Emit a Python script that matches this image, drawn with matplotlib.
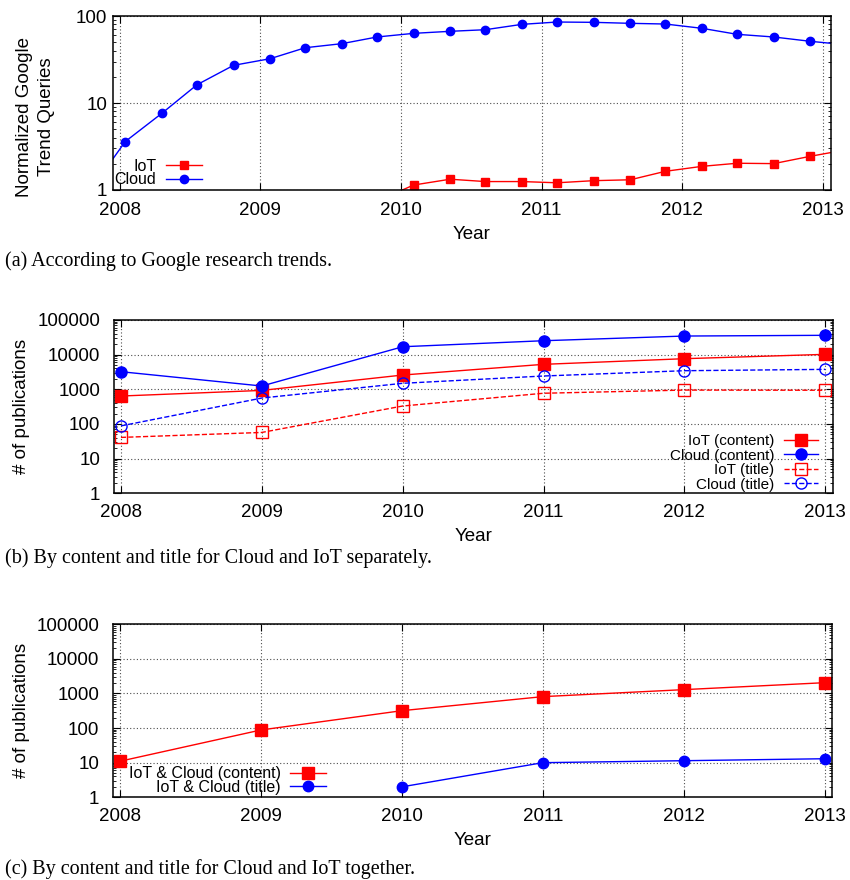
import matplotlib
matplotlib.use("Agg")
import matplotlib.pyplot as plt
from matplotlib.ticker import LogLocator, NullFormatter

plt.rcParams['font.family'] = ['Liberation Sans', 'DejaVu Sans']

# (a) Google trends, quarterly samples
trend_t = [2008.04, 2008.30, 2008.55, 2008.81, 2009.07, 2009.32, 2009.58, 2009.83,
           2010.09, 2010.35, 2010.60, 2010.86, 2011.11, 2011.37, 2011.63, 2011.88,
           2012.14, 2012.39, 2012.65, 2012.91]
trend_cloud = [3.6, 7.6, 16.2, 27.1, 32.3, 43.2, 48.1, 57.4, 63.2, 66.7,
               69.6, 80.2, 85.3, 84.6, 82.4, 80.9, 72.2, 61.6, 57.4, 51.2]
trend_iot_t = trend_t[8:]
trend_iot = [1.14, 1.33, 1.25, 1.25, 1.21, 1.28, 1.31, 1.64, 1.87, 2.03, 2.01, 2.44]
# where the curves leave the plot area
cloud_ends_t = [2007.95, 2013.06]
cloud_ends = [2.25, 48.5]
iot_ends_t = [2010.01, 2013.06]
iot_ends = [1.0, 2.7]

# (b) publications, separately
years = [2008, 2009, 2010, 2011, 2012, 2013]
iot_content = [640, 930, 2580, 5250, 7640, 10200]
cloud_content = [3220, 1245, 16900, 25200, 34400, 36100]
iot_title = [41, 57, 330, 770, 950, 940]
cloud_title = [88, 560, 1490, 2420, 3440, 3760]

# (c) publications, together
both_content = [11, 88, 318, 810, 1290, 2050]
both_title_years = [2010, 2011, 2012, 2013]
both_title = [2, 10, 11.4, 13]

pub_ticks = [1, 10, 100, 1000, 10000, 100000]
pub_ticklabels = ['1', '10', '100', '1000', '10000', '100000']

RED = '#ff0000'
BLUE = '#0000ff'
TICK_FS = 13.5
LEG_FS = 11.5


def style_axes(ax, ypad, xpad=7):
    ax.set_xlim(2007.953, 2013.055)
    ax.set_xticks(years)
    ax.set_xticklabels([str(y) for y in years])
    ax.set_yscale('log')
    ax.yaxis.set_minor_locator(LogLocator(base=10, subs=range(2, 10), numticks=20))
    ax.yaxis.set_minor_formatter(NullFormatter())
    ax.grid(True, which='major', color='0.3', linestyle=(0, (1, 2)), linewidth=0.8)
    ax.tick_params(which='both', direction='in', top=True, right=True)
    ax.tick_params(which='major', length=5, width=0.8, labelsize=TICK_FS)
    ax.tick_params(which='minor', length=2.5, width=0.6)
    ax.tick_params(axis='x', pad=xpad)
    ax.tick_params(axis='y', pad=ypad)
    for s in ax.spines.values():
        s.set_linewidth(1.1)
    ax.set_xlabel('Year', fontsize=TICK_FS, labelpad=5)


def add_legend(ax, anchor, handles=None, spacing=-0.12, size=LEG_FS):
    kw = dict(loc='lower right', bbox_to_anchor=anchor, frameon=False,
              markerfirst=False, fontsize=size, borderpad=0, borderaxespad=0,
              labelspacing=spacing, handlelength=2.25, handletextpad=0.6)
    if handles is not None:
        kw['handles'] = handles
    ax.legend(**kw)


fig = plt.figure(figsize=(8.5, 8.8), dpi=100)

# ---- (a)
ax1 = fig.add_axes([0.1329, 0.7841, 0.8444, 0.1977])
ax1.plot([cloud_ends_t[0]] + trend_t + [cloud_ends_t[1]],
         [cloud_ends[0]] + trend_cloud + [cloud_ends[1]], color=BLUE, lw=1.0)
ax1.plot([iot_ends_t[0]] + trend_iot_t + [iot_ends_t[1]],
         [iot_ends[0]] + trend_iot + [iot_ends[1]], color=RED, lw=1.0)
ax1.plot(trend_iot_t, trend_iot, 's', color=RED, ms=6)
ax1.plot(trend_t, trend_cloud, 'o', color=BLUE, ms=6)
l_iot, = ax1.plot([], [], '-s', color=RED, lw=1.0, ms=6, label='IoT')
l_cloud, = ax1.plot([], [], '-o', color=BLUE, lw=1.0, ms=6, label='Cloud')
style_axes(ax1, ypad=4, xpad=8.5)
ax1.set_ylim(1, 100)
ax1.set_yticks([1, 10, 100])
ax1.set_yticklabels(['1', '10', '100'])
ax1.set_ylabel('Normalized Google\nTrend Queries', fontsize=TICK_FS, va='center',
               linespacing=1.45)
ax1.yaxis.set_label_coords(-0.108, 0.42)
add_legend(ax1, (0.124, 0.015), handles=[l_iot, l_cloud], spacing=-0.08)

# ---- (b)
ax2 = fig.add_axes([0.1345, 0.4394, 0.8455, 0.197])
ax2.plot(years, iot_content, '-s', color=RED, lw=1.0, ms=8, label='IoT (content)')
ax2.plot(years, cloud_content, '-o', color=BLUE, lw=1.0, ms=8, label='Cloud (content)')
ax2.plot(years, iot_title, '--s', color=RED, lw=1.0, ms=8, mfc='none', mew=1.0,
         label='IoT (title)')
ax2.plot(years, cloud_title, '--o', color=BLUE, lw=1.0, ms=8, mfc='none', mew=1.0,
         label='Cloud (title)')
style_axes(ax2, ypad=10, xpad=8)
ax2.set_ylim(1, 100000)
ax2.set_yticks(pub_ticks)
ax2.set_yticklabels(pub_ticklabels)
ax2.set_ylabel('# of publications', fontsize=TICK_FS, va='center')
ax2.yaxis.set_label_coords(-0.129, 0.5)
add_legend(ax2, (0.979, 0.01), spacing=0.03, size=11)

# ---- (c)
ax3 = fig.add_axes([0.1333, 0.0940, 0.8459, 0.1966])
ax3.plot(years, both_content, '-s', color=RED, lw=1.0, ms=9,
         label='IoT & Cloud (content)')
ax3.plot(both_title_years, both_title, '-o', color=BLUE, lw=1.0, ms=7.5,
         label='IoT & Cloud (title)')
style_axes(ax3, ypad=10, xpad=7.5)
ax3.set_ylim(1, 100000)
ax3.set_yticks(pub_ticks)
ax3.set_yticklabels(pub_ticklabels)
ax3.set_ylabel('# of publications', fontsize=TICK_FS, va='center')
ax3.yaxis.set_label_coords(-0.128, 0.5)
add_legend(ax3, (0.296, 0.015), spacing=-0.1)

# captions
cap_kw = dict(fontsize=14.5, family=['Liberation Serif', 'DejaVu Serif'],
              ha='left', va='center')
fig.text(5 / 850, 1 - 261 / 880, '(a) According to Google research trends.', **cap_kw)
fig.text(5 / 850, 1 - 558 / 880, '(b) By content and title for Cloud and IoT separately.',
         **cap_kw)
fig.text(5 / 850, 1 - 869 / 880, '(c) By content and title for Cloud and IoT together.',
         **cap_kw)

fig.savefig('out.png', dpi=100)
